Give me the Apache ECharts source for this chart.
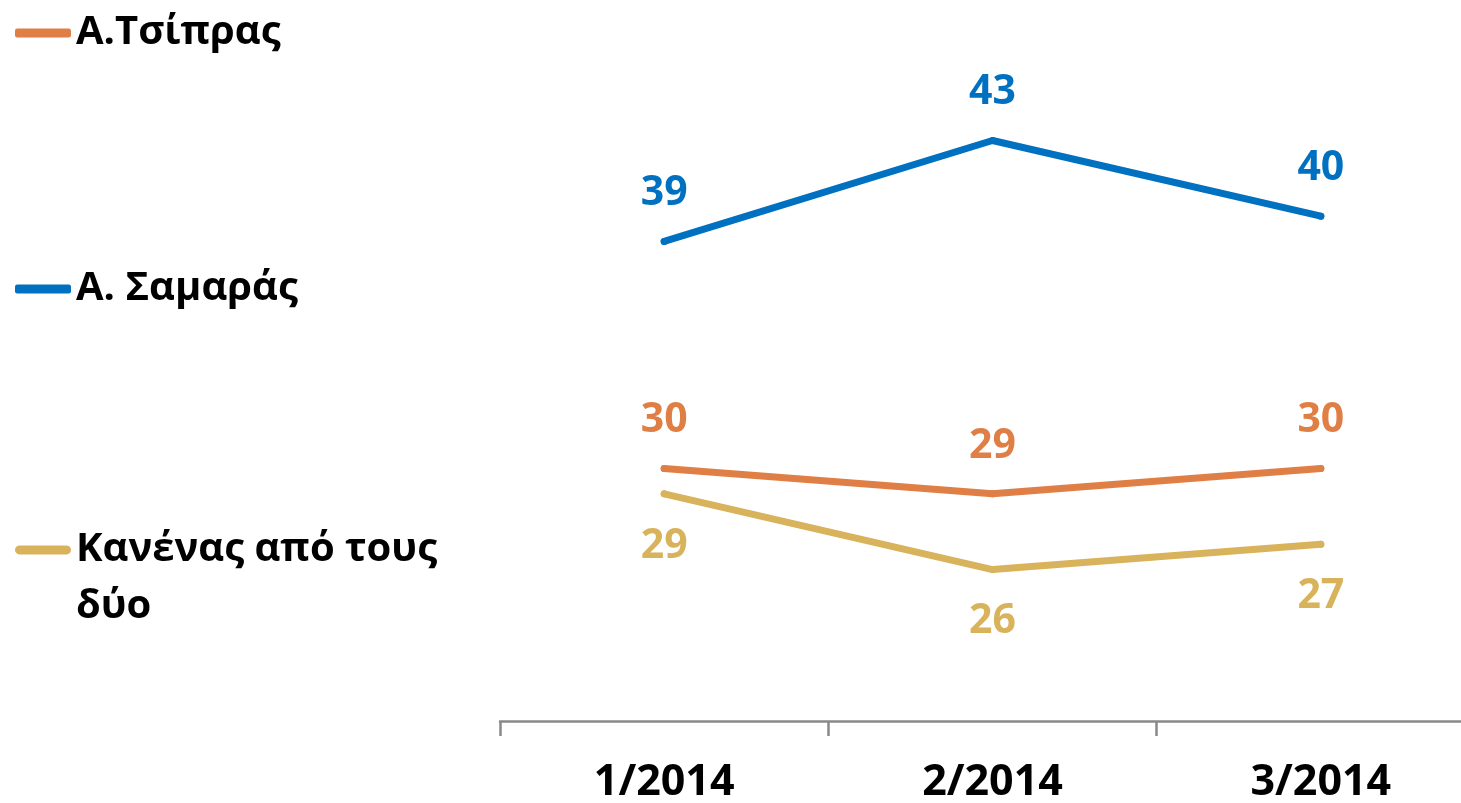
<!DOCTYPE html>
<html>
<head>
<meta charset="utf-8">
<script src="https://cdn.jsdelivr.net/npm/echarts@6/dist/echarts.min.js"></script>
<style>
  html, body { margin: 0; padding: 0; background: #fff; }
  #main { width: 1461px; height: 803px; }
</style>
</head>
<body>
<div id="main"></div>
<script>
// data
const months = ['1/2014', '2/2014', '3/2014'];
const tsipras = [30, 29, 30];
const samaras = [39, 43, 40];
const kanenas = [29, 26, 27];

const nameTsipras = 'Α.Τσίπρας';
const nameSamaras = 'Α. Σαμαράς';
const nameKanenas = 'Κανένας από τους δύο';

const FONT = 'Open Sans';
const C_ORANGE = '#DF7F46';
const C_BLUE = '#0070C0';
const C_GOLD = '#D9B35C';

// rounded bar on top, invisible point below -> icon sits on the first text line
const ICON_TOP = 'path://M4.5,0 L52.5,0 A4.5,4.5 0 0 1 52.5,9 L4.5,9 A4.5,4.5 0 0 1 4.5,0 Z M0,66 L0.05,66 L0.05,66.05 Z';

function legendBox(name, top, extra) {
  return Object.assign({
    orient: 'vertical',
    left: 15,
    top: top,
    padding: 0,
    data: [name],
    icon: 'roundRect',
    itemWidth: 56,
    itemHeight: 9,
    selectedMode: false,
    textStyle: {
      fontFamily: FONT,
      fontWeight: 'bold',
      fontSize: 40,
      color: '#000',
      lineHeight: 50,
    },
  }, extra || {});
}

function lineSeries(name, data, color, pos, dist) {
  return {
    name: name,
    type: 'line',
    data: data,
    symbol: 'circle',
    symbolSize: 7,
    itemStyle: { color: color },
    lineStyle: { color: color, width: 7, cap: 'round', join: 'round' },
    label: {
      show: true,
      position: pos,
      distance: dist,
      color: color,
      fontFamily: FONT,
      fontWeight: 'bold',
      fontSize: 41,
    },
    emphasis: { disabled: true },
    animation: false,
  };
}

let chart = echarts.init(document.getElementById('main'));
chart.setOption({
  backgroundColor: '#fff',
  legend: [
    legendBox(nameTsipras, 8),
    legendBox(nameSamaras, 264),
    legendBox(nameKanenas, 521, {
      icon: ICON_TOP,
      itemHeight: 66,
      formatter: function () { return 'Κανένας από τους\nδύο'; },
      textStyle: {
        fontFamily: FONT,
        fontWeight: 'bold',
        fontSize: 40,
        color: '#000',
        lineHeight: 57,
      },
    }),
  ],
  grid: { left: 500, width: 985, top: 90, bottom: 82, outerBoundsMode: 'none', containLabel: false },
  xAxis: {
    type: 'category',
    data: months,
    boundaryGap: true,
    axisLine: { lineStyle: { color: '#898989', width: 2.5 } },
    axisTick: { show: true, length: 15, lineStyle: { color: '#898989', width: 2.5 } },
    axisLabel: {
      margin: 40,
      color: '#000',
      fontFamily: FONT,
      fontWeight: 'bold',
      fontSize: 43,
      interval: 0,
    },
  },
  yAxis: {
    type: 'value',
    min: 20,
    max: 45,
    show: false,
    splitLine: { show: false },
  },
  series: [
    lineSeries(nameTsipras, tsipras, C_ORANGE, 'top', 24),
    lineSeries(nameSamaras, samaras, C_BLUE, 'top', 24),
    lineSeries(nameKanenas, kanenas, C_GOLD, 'bottom', 28),
  ],
});
</script>
</body>
</html>
